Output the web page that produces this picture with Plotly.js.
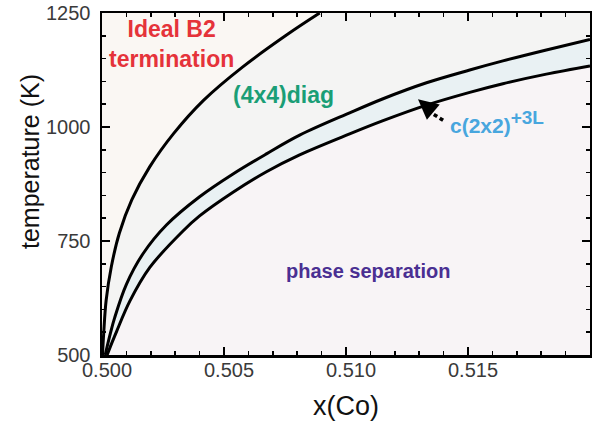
<!DOCTYPE html>
<html>
<head>
<meta charset="utf-8">
<script src="https://cdn.plot.ly/plotly-3.0.1.min.js"></script>
<style>html,body{margin:0;padding:0;background:#fff;}#chart{width:592px;height:423px;}</style>
</head>
<body>
<div id="chart"></div>
<script>
// Phase boundary curves: x(Co) vs temperature (K)
const xIdealB2Boundary = [0.50002, 0.50007, 0.50017, 0.50038, 0.50071, 0.50122, 0.50196, 0.50294, 0.50417, 0.50577, 0.50765, 0.50892];
const tIdealB2Boundary = [500, 548, 620, 693, 767, 840, 913, 986, 1059, 1132, 1205, 1250];

const xDiagBoundary = [0.50013, 0.50034, 0.50052, 0.50100, 0.50168, 0.50264, 0.50400, 0.50537, 0.50674, 0.50810, 0.51015, 0.51152, 0.51330, 0.51507, 0.51643, 0.51821, 0.52000];
const tDiagBoundary = [500, 547, 582, 655, 722, 785, 847, 897, 941, 982, 1031, 1062, 1097, 1125, 1145, 1169, 1192];

const xC2x2Boundary = [0.50021, 0.50040, 0.50060, 0.50114, 0.50196, 0.50332, 0.50400, 0.50537, 0.50674, 0.50810, 0.51015, 0.51152, 0.51330, 0.51507, 0.51643, 0.51821, 0.52000];
const tC2x2Boundary = [500, 526, 552, 618, 692, 772, 805, 857, 902, 939, 985, 1014, 1048, 1076, 1095, 1116, 1134];

const xRange = [0.500, 0.520];
const tRange = [500, 1250];
const xTickVals = [0.500, 0.505, 0.510, 0.515];
const tTickVals = [500, 750, 1000, 1250];

const regionLabels = ["Ideal B2<br>termination", "(4x4)diag", "c(2x2)<sup><span style=\"font-size:19px\">+3L</span></sup>", "phase separation"];

const FONT = "Liberation Sans, Arial, Helvetica, sans-serif";
const rev = a => a.slice().reverse();

const traces = [
  // Ideal B2 region (left of first boundary)
  {x: [xRange[0]].concat(xIdealB2Boundary, [xRange[0]]),
   y: [tRange[0]].concat(tIdealB2Boundary, [tRange[1]]),
   mode: 'lines', fill: 'toself', fillcolor: '#faf7f3', line: {width: 0}, hoverinfo: 'skip'},
  // (4x4)diag region
  {x: xIdealB2Boundary.concat([xRange[1]], rev(xDiagBoundary)),
   y: tIdealB2Boundary.concat([tRange[1]], rev(tDiagBoundary)),
   mode: 'lines', fill: 'toself', fillcolor: '#f4f4f3', line: {width: 0}, hoverinfo: 'skip'},
  // c(2x2)+3L band
  {x: xC2x2Boundary.concat(rev(xDiagBoundary)),
   y: tC2x2Boundary.concat(rev(tDiagBoundary)),
   mode: 'lines', fill: 'toself', fillcolor: '#e9f1f3', line: {width: 0}, hoverinfo: 'skip'},
  // boundary lines
  {x: xIdealB2Boundary, y: tIdealB2Boundary, mode: 'lines', line: {color: '#000', width: 3, shape: 'spline', smoothing: 1}},
  {x: xDiagBoundary, y: tDiagBoundary, mode: 'lines', line: {color: '#000', width: 3, shape: 'spline', smoothing: 1}},
  {x: xC2x2Boundary, y: tC2x2Boundary, mode: 'lines', line: {color: '#000', width: 3, shape: 'spline', smoothing: 1}}
];

const axisCommon = {
  showline: true, linecolor: '#000', linewidth: 2.5, mirror: 'ticks',
  ticks: 'inside', ticklen: 8, tickwidth: 2.5, tickcolor: '#000',
  showgrid: false, zeroline: false,
  tickfont: {family: FONT, size: 20, color: '#3a3a3a'}
};

const layout = {
  width: 592, height: 423,
  margin: {l: 102, r: 2, t: 13, b: 68},
  paper_bgcolor: '#ffffff',
  plot_bgcolor: '#f8f4f6',
  showlegend: false,
  font: {family: FONT},
  xaxis: Object.assign({}, axisCommon, {
    range: xRange, tickvals: xTickVals, tickformat: '.3f',
    minor: {dtick: 0.001, tick0: 0.5, ticks: 'inside', ticklen: 4, tickwidth: 1.5, tickcolor: '#000'},
    ticklabelstandoff: -5, ticklabelshift: 5,
    title: {text: 'x(Co)', font: {family: FONT, size: 27, color: '#111'}, standoff: 17}
  }),
  yaxis: Object.assign({}, axisCommon, {
    range: tRange, tickvals: tTickVals,
    minor: {dtick: 50, tick0: 500, ticks: 'inside', ticklen: 4, tickwidth: 1.5, tickcolor: '#000'},
    ticklabelstandoff: 5
  }),
  shapes: [
    {type: 'line', xref: 'x', yref: 'y', x0: 0.51398, y0: 1014.7, x1: 0.51335, y1: 1036,
     line: {color: '#000', width: 3.5, dash: '4px,3px'}}
  ],
  annotations: [
    {xref: 'paper', yref: 'paper', x: -0.147, y: 0.565, text: 'temperature (K)', textangle: -90,
     showarrow: false, font: {family: FONT, size: 25, color: '#111'}, xanchor: 'center', yanchor: 'middle'},
    {x: 0.50286, y: 1182.5, text: regionLabels[0], showarrow: false,
     font: {family: FONT, size: 23, color: '#e5333a', weight: 'bold'}, xanchor: 'center', yanchor: 'middle'},
    {x: 0.50745, y: 1069.5, text: regionLabels[1], showarrow: false,
     font: {family: FONT, size: 23, color: '#1a9e76', weight: 'bold'}, xanchor: 'center', yanchor: 'middle'},
    {x: 0.51418, y: 1012, text: regionLabels[2], showarrow: false,
     font: {family: FONT, size: 21, color: '#48a6de', weight: 'bold'}, xanchor: 'left', yanchor: 'middle'},
    {x: 0.51093, y: 683.5, text: regionLabels[3], showarrow: false,
     font: {family: FONT, size: 20, color: '#4a2f92', weight: 'bold'}, xanchor: 'center', yanchor: 'middle'},
    // arrow head pointing into the c(2x2) band
    {x: 0.51295, y: 1060.7, ax: 11, ay: 9.2, axref: 'pixel', ayref: 'pixel', text: '', showarrow: true,
     arrowhead: 2, arrowsize: 1.6, arrowwidth: 2.5, arrowcolor: '#000', standoff: 0}
  ]
};

Plotly.newPlot('chart', traces, layout, {staticPlot: true, displayModeBar: false});
</script>
</body>
</html>
